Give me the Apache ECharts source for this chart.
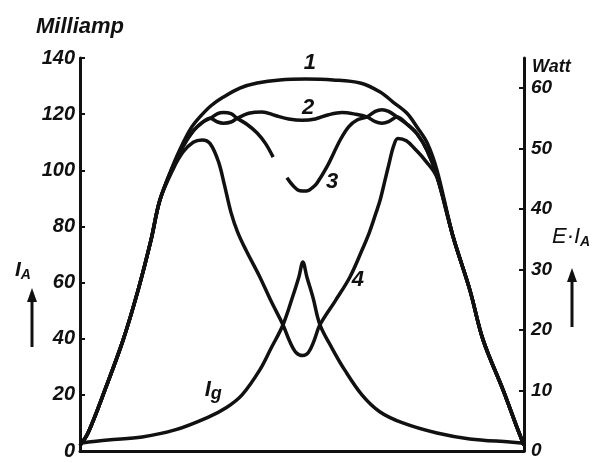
<!DOCTYPE html>
<html>
<head>
<meta charset="utf-8">
<script src="https://cdn.jsdelivr.net/npm/echarts@6/dist/echarts.min.js"></script>
<style>
html,body{margin:0;padding:0;background:#fff;}
#chart{width:598px;height:463px;}
</style>
</head>
<body>
<div id="chart"></div>
<script>
// ---- axis ticks ----
const leftTicks = [0, 20, 40, 60, 80, 100, 120, 140];
const rightTicks = [0, 10, 20, 30, 40, 50, 60];

// ---- curve 1 ----
const c1X = [0, 1.8, 5.6, 9.7, 13.1, 16.0, 18.0, 21.0, 23.2, 25, 27, 29.5, 32.2, 36, 39.9, 45, 50.8, 57, 63.1, 67.6, 70.5, 73.6, 75.9, 78.2, 80.4, 84.0, 87.8, 90.8, 95.3, 98.4, 100];
const c1Y = [2, 6.4, 21.7, 39.5, 57.4, 75.2, 89.4, 102, 109.7, 115, 119, 123, 126, 129.3, 131.1, 132.2, 132.5, 132.2, 131.1, 127.9, 124.3, 120.4, 115.4, 109.7, 100, 76.5, 57.4, 39.5, 21.7, 8.5, 2];

// ---- curve 2 ----
const c2X = [0, 1.8, 5.6, 9.7, 13.1, 16.0, 18.0, 21.0, 23.2, 25.5, 27.5, 29.3, 31, 32.3, 34, 35.4, 38, 41, 44, 47, 50, 53, 56, 59, 62, 64.6, 66.5, 68, 69.5, 71.4, 73.6, 75.9, 78.2, 80.4, 84, 87.8, 90.8, 95.3, 98.4, 100];
const c2Y = [2, 6.4, 21.7, 39.5, 57.4, 75.2, 89.4, 101.5, 108.5, 114, 117, 118.5, 117.2, 116.8, 117.2, 118.5, 120.3, 120.8, 119.5, 118.3, 117.8, 118.3, 119.8, 120.6, 120, 119, 117.3, 116.8, 117.3, 119, 116.5, 113, 107, 98, 76.5, 57.4, 39.5, 21.7, 8.5, 2];

// ---- curve 3 (broken between 43.5 and 46.6) ----
const c3X = [0, 1.8, 5.6, 9.7, 13.1, 16.0, 18.0, 21.0, 23.2, 25.5, 27.5, 29.3, 31, 32.3, 34, 35.4, 37.5, 39.9, 41.8, 43.5, 45, 46.6, 48, 49.5, 51, 52.5, 53.4, 55.6, 58.6, 60.5, 62.4, 64.6, 66.5, 68, 69.5, 71.4, 73.6, 75.9, 78.2, 80.4, 84, 87.8, 90.8, 95.3, 98.4, 100];
const c3Y = [2, 6.4, 21.7, 39.5, 57.4, 75.2, 89.4, 101.5, 108.5, 114, 117, 118.5, 120.2, 120.6, 120.2, 118.5, 116.5, 113.3, 109.5, 104.7, null, 97.3, 94.5, 92.7, 92.6, 94, 95.5, 101.2, 110.8, 115.5, 117.9, 119, 121, 121.6, 121, 119, 116.5, 113, 107, 98, 76.5, 57.4, 39.5, 21.7, 8.5, 2];

// ---- curve 4 ----
const c4X = [0, 1.8, 5.6, 9.7, 13.1, 16.0, 18.0, 21.0, 23.2, 25.5, 27.5, 29.3, 31.2, 32.5, 34, 35.5, 37.4, 40.5, 43, 45.7, 47.3, 48.7, 50.2, 51.4, 52.6, 54.05, 57.5, 60.8, 63.5, 65.2, 66.7, 67.6, 68.7, 69.7, 70.6, 71.6, 73.5, 75.5, 77.5, 80.4, 84, 87.8, 90.8, 95.3, 98.4, 100];
const c4Y = [2, 6.4, 21.7, 39.5, 57.4, 75.2, 89.4, 100.5, 106.5, 110, 110.8, 109.5, 103, 95, 85, 78, 71.5, 62, 53.5, 45, 38.8, 35, 34, 35, 38.8, 45, 53.5, 62, 71.5, 78, 85, 89.4, 96.5, 103, 108.5, 111.3, 110.5, 107.5, 104, 97.5, 76.5, 57.4, 39.5, 21.7, 8.5, 2];

// ---- Ig ----
const igX = [0, 6.3, 14, 21.4, 28.8, 33, 36.5, 40.5, 43, 45.7, 47.8, 49.3, 50.2, 51.1, 52.5, 54.05, 56.8, 59.6, 63.5, 67.5, 72.7, 80.4, 87.8, 96.8, 100];
const igY = [2.8, 3.9, 5, 7.5, 12, 15.5, 20, 28.9, 36.5, 44.9, 54.5, 62, 67.3, 62, 54.5, 44.9, 36.5, 28.9, 20, 14, 10, 6.4, 4.3, 3.2, 2.8];

// ---- curve annotations ----
const annoText = ['1', '2', '3', '4', 'Ig'];
const annoX = [51.8, 51.4, 56.8, 62.6, 30];
const annoY = [138.2, 122.2, 95.8, 61, 21.7];

function pts(xs, ys) {
  return xs.map((x, i) => ys[i] === null ? [x, '-'] : [x, ys[i]]);
}

const INK = '#111111';
const FONT = 'Liberation Sans';
const lineSeries = (name, xs, ys) => ({
  name, type: 'line', data: pts(xs, ys), yAxisIndex: 0,
  showSymbol: false, symbol: 'none', smooth: 0.35, connectNulls: false,
  lineStyle: { color: INK, width: 3.5 }, z: 3, silent: true
});

const chart = echarts.init(document.getElementById('chart'), null, { renderer: 'canvas' });
chart.setOption({
  animation: false,
  backgroundColor: '#ffffff',
  grid: { left: 80, right: 74, top: 58, bottom: 12 },
  xAxis: {
    type: 'value', min: 0, max: 100,
    axisLine: { show: true, lineStyle: { color: INK, width: 3 } },
    axisTick: { show: false }, axisLabel: { show: false }, splitLine: { show: false }
  },
  yAxis: [
    {
      type: 'value', position: 'left', min: 0, max: 140, interval: 20,
      name: 'Milliamp', nameLocation: 'end', nameGap: 20,
      nameTextStyle: { color: INK, fontStyle: 'italic', fontWeight: 'bold', fontSize: 22, fontFamily: FONT },
      axisLine: { show: true, lineStyle: { color: INK, width: 3 } },
      axisTick: { show: true, inside: true, length: 5, lineStyle: { color: INK, width: 2 } },
      axisLabel: { color: INK, fontStyle: 'italic', fontWeight: 'bold', fontSize: 20, fontFamily: FONT, margin: 5,
                   customValues: leftTicks },
      splitLine: { show: false }
    },
    {
      type: 'value', position: 'right', min: 0, max: 65, interval: 10,
      name: 'Watt', nameLocation: 'end', nameGap: 0,
      nameTextStyle: { color: INK, fontStyle: 'italic', fontWeight: 'bold', fontSize: 18, fontFamily: FONT,
                       align: 'left', verticalAlign: 'top', padding: [0, 0, 0, 8] },
      axisLine: { show: true, lineStyle: { color: INK, width: 3 } },
      axisTick: { show: true, inside: true, length: 5, lineStyle: { color: INK, width: 2 }, customValues: rightTicks },
      axisLabel: { color: INK, fontStyle: 'italic', fontWeight: 'bold', fontSize: 19, fontFamily: FONT, margin: 7,
                   customValues: rightTicks },
      splitLine: { show: false }
    }
  ],
  series: [
    lineSeries('1', c1X, c1Y),
    lineSeries('2', c2X, c2Y),
    lineSeries('3', c3X, c3Y),
    lineSeries('4', c4X, c4Y),
    lineSeries('Ig', igX, igY),
    {
      name: 'labels', type: 'scatter', yAxisIndex: 0, symbolSize: 0, silent: true, z: 5,
      itemStyle: { color: INK, opacity: 1 },
      data: annoText.map((t, i) => ({ name: t, value: [annoX[i], annoY[i]] })),
      label: {
        show: true, position: 'inside', color: INK, textBorderWidth: 0, textBorderColor: 'transparent',
        fontStyle: 'italic', fontWeight: 'bold', fontSize: 22, fontFamily: FONT,
        formatter: p => p.name === 'Ig' ? '{m|I}{s|g}' : p.name,
        rich: {
          m: { fontStyle: 'italic', fontWeight: 'bold', fontSize: 22, fontFamily: FONT, color: INK, textBorderWidth: 0 },
          s: { fontStyle: 'italic', fontWeight: 'bold', fontSize: 18, fontFamily: FONT, color: INK, textBorderWidth: 0, padding: [8, 0, 0, 0] }
        }
      }
    }
  ],
  graphic: [
    { type: 'text', left: 15, top: 260, silent: true,
      style: { text: '{m|I}{s|A}', rich: {
        m: { fontStyle: 'italic', fontWeight: 'bold', fontSize: 21, fontFamily: FONT, fill: INK },
        s: { fontStyle: 'italic', fontWeight: 'bold', fontSize: 14, fontFamily: FONT, fill: INK, padding: [10, 0, 0, 0] } } } },
    { type: 'line', silent: true, shape: { x1: 32, y1: 347, x2: 32, y2: 298 }, style: { stroke: INK, lineWidth: 3 } },
    { type: 'polygon', silent: true, shape: { points: [[32, 288], [27, 302], [37, 302]] }, style: { fill: INK } },
    { type: 'text', left: 552, top: 226, silent: true,
      style: { text: '{m|E·I}{s|A}', rich: {
        m: { fontStyle: 'italic', fontSize: 22, fontFamily: FONT, fill: INK },
        s: { fontStyle: 'italic', fontWeight: 'bold', fontSize: 14, fontFamily: FONT, fill: INK, padding: [10, 0, 0, 0] } } } },
    { type: 'line', silent: true, shape: { x1: 572, y1: 327, x2: 572, y2: 278 }, style: { stroke: INK, lineWidth: 3 } },
    { type: 'polygon', silent: true, shape: { points: [[572, 268], [567, 282], [577, 282]] }, style: { fill: INK } }
  ]
});
</script>
</body>
</html>
